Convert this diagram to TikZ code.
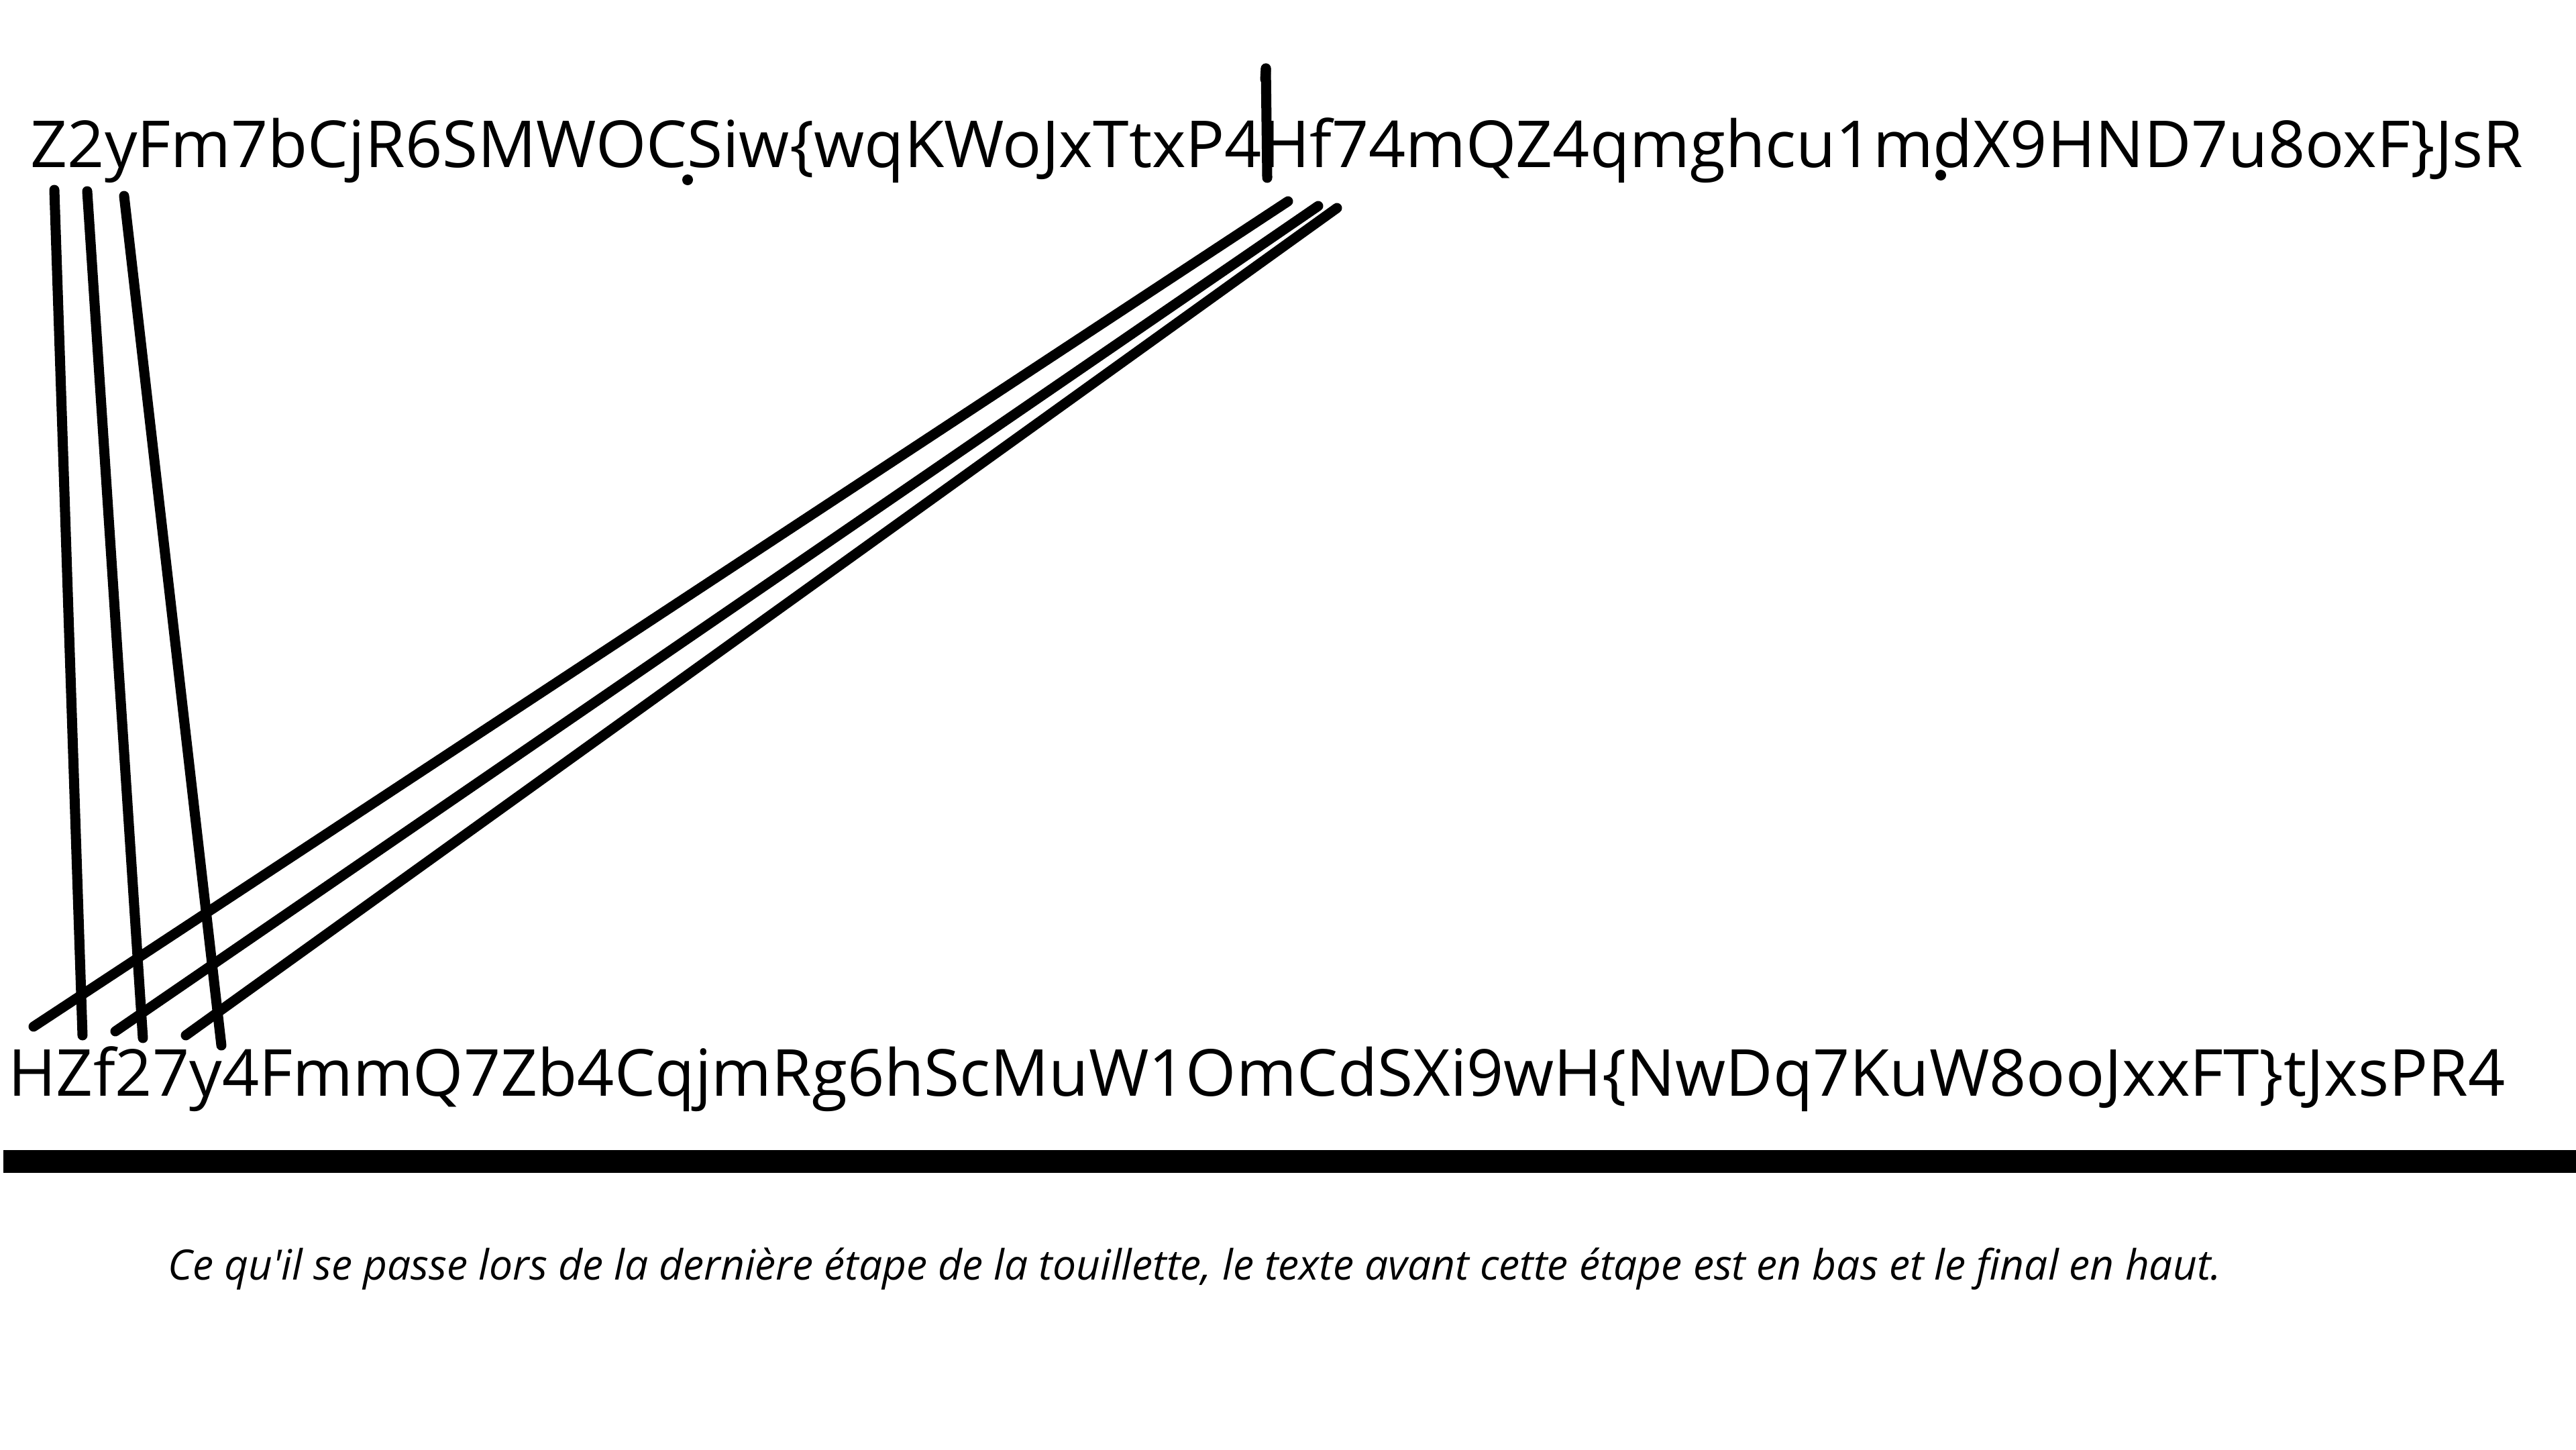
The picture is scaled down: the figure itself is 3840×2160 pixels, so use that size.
\documentclass[tikz,border=0pt]{standalone}
\usepackage{fontspec}
\setmainfont{Open Sans}
\newfontfamily\capfont{Open Sans}
\begin{document}
\begin{tikzpicture}[x=0.01cm,y=-0.01cm,
  strline/.style={inner sep=0pt, anchor=base west, font=\fontsize{27.47pt}{33pt}\selectfont},
  caption/.style={inner sep=0pt, anchor=base west, font=\capfont\fontsize{17.72pt}{21pt}\selectfont\itshape},
  stroke/.style={line width=0.15cm, line cap=round},
  rule/.style={line width=0.34cm, line cap=butt}]
\useasboundingbox (0,0) rectangle (3840,2160);
\fill[white] (0,0) rectangle (3840,2160);
\node[strline] (top) at (45,249) {Z2yFm7bCjR6SMWOCSiw\{wqKWoJxTtxP4Hf74mQZ4qmghcu1mdX9HND7u8oxF\}JsR};
\node[strline] (bot) at (12,1633) {HZf27y4FmmQ7Zb4CqjmRg6hScMuW1OmCdSXi9wH\{NwDq7KuW8ooJxxFT\}tJxsPR4};
\node[caption] (cap) at (250,1907) {Ce qu'il se passe lors de la dernière étape de la touillette, le texte avant cette étape est en bas et le final en haut.};
% endpoints
\coordinate (t1) at (81,283);   \coordinate (b1) at (123,1543);
\coordinate (t2) at (130,285);  \coordinate (b2) at (213,1547);
\coordinate (t3) at (185,292);  \coordinate (b3) at (330,1558);
\coordinate (t4) at (1920,300); \coordinate (b4) at (50,1530);
\coordinate (t5) at (1965,307); \coordinate (b5) at (172,1537);
\coordinate (t6) at (1993,310); \coordinate (b6) at (277,1543);
\coordinate (m1) at (1887,102); \coordinate (m2) at (1889,265);
\coordinate (m0) at (1886,118);
\coordinate (d1) at (1025,268); \coordinate (d2) at (2893,261);
\draw[stroke] (t1) -- (b1);
\draw[stroke] (t2) -- (b2);
\draw[stroke] (t3) -- (b3);
\draw[stroke] (t4) -- (b4);
\draw[stroke] (t5) -- (b5);
\draw[stroke] (t6) -- (b6);
\draw[stroke] (m1) -- (m2);
\draw[stroke] (m1) -- (m0);
\fill (d1) circle (8);
\fill (d2) circle (8);
\coordinate (r1) at (5,1731); \coordinate (r2) at (3840,1731);
\draw[rule] (r1) -- (r2);
\end{tikzpicture}
\end{document}
